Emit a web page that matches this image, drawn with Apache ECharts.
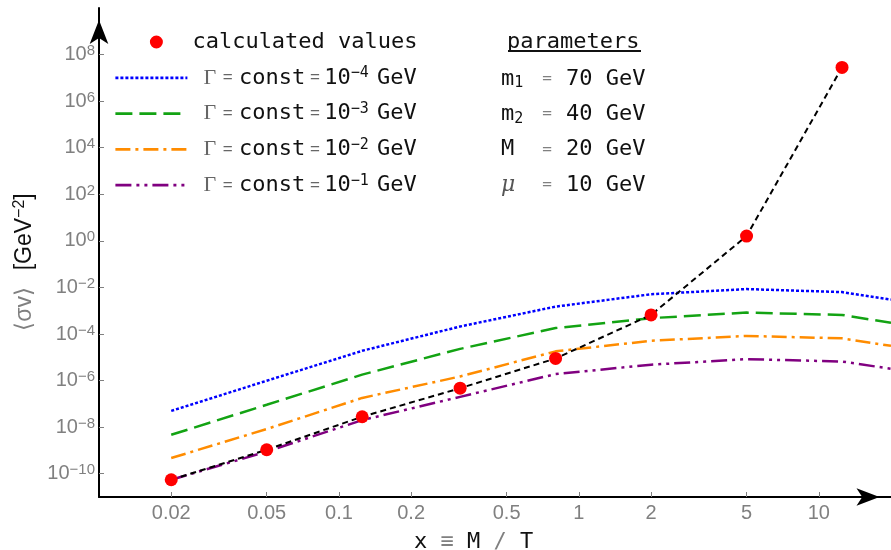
<!DOCTYPE html>
<html>
<head>
<meta charset="utf-8">
<script src="https://cdn.jsdelivr.net/npm/echarts@6/dist/echarts.min.js"></script>
<style>
  html, body { margin: 0; padding: 0; background: #fff; }
  #chart { width: 891px; height: 550px; }
</style>
</head>
<body>
<div id="chart"></div>
<script>
// x = M/T sample points
var xs = [0.02, 0.05, 0.125, 0.32, 0.8, 2, 5, 12.5, 20];
var pointX = [0.02, 0.05, 0.125, 0.32, 0.8, 2, 5, 12.5];
// <sigma v> calculated values [GeV^-2]
var pointY = [5.5e-11, 1.07e-9, 2.8e-8, 4.7e-7, 8.9e-6, 6.6e-4, 1.6, 2.8e7];
// Gamma = const curves
var gamma4 = [5.0e-8, 9.8e-7, 1.9e-5, 2.1e-4, 1.5e-3, 5.1e-3, 8.5e-3, 6.3e-3, 3.0e-3];
var gamma3 = [4.7e-9, 9.1e-8, 1.8e-6, 2.3e-5, 1.8e-4, 4.8e-4, 8.3e-4, 6.6e-4, 3.0e-4];
var gamma2 = [4.7e-10, 8.3e-9, 1.8e-7, 1.5e-6, 1.8e-5, 5.1e-5, 8.3e-5, 6.5e-5, 3.1e-5];
var gamma1 = [5.5e-11, 8.9e-10, 2.0e-8, 2.0e-7, 1.9e-6, 4.8e-6, 8.3e-6, 6.6e-6, 3.2e-6];
var gammaExps = [-4, -3, -2, -1];

var xTicks = [0.02, 0.05, 0.1, 0.2, 0.5, 1, 2, 5, 10];
var yTickExps = [-10, -8, -6, -4, -2, 0, 2, 4, 6, 8];

var paramNames = [['m', '1'], ['m', '2'], ['M', ''], ['μ', '']];
var paramValues = ['70 GeV', '40 GeV', '20 GeV', '10 GeV'];

var MONO = 'DejaVu Sans Mono';
var SANS = 'Liberation Sans';
var GRAY = '#808080';

function toLog(xArr, yArr) {
    return xArr.map(function (x, i) {
        return [Math.log10(x), Math.log10(yArr[i])];
    });
}
function expText(e) {
    return e < 0 ? '−' + (-e) : String(e);
}

var chart = echarts.init(document.getElementById('chart'));

var curves = [gamma4, gamma3, gamma2, gamma1];
var colors = ['#0000ff', '#13a313', '#ff8c00', '#800080'];
var dashes = [[3, 2], [17, 7], [15, 5, 3, 5], [16, 5, 3, 5, 3, 5]];
var names = gammaExps.map(function (e) { return 'G' + e; });

var series = curves.map(function (c, i) {
    return {
        type: 'line',
        name: names[i],
        data: toLog(xs, c),
        symbol: 'none',
        color: colors[i],
        itemStyle: { color: colors[i] },
        lineStyle: { color: colors[i], width: 2.5, type: dashes[i] },
        silent: true,
        animation: false,
        z: 2
    };
});
series.push({
    type: 'line',
    data: toLog(pointX, pointY),
    symbol: 'none',
    lineStyle: { color: '#000', width: 2, type: [6, 4] },
    silent: true,
    animation: false,
    z: 3
});
series.push({
    type: 'scatter',
    name: 'calculated values',
    data: toLog(pointX, pointY),
    symbolSize: 13,
    itemStyle: { color: '#ff0000', opacity: 1 },
    silent: true,
    animation: false,
    z: 4
});

var graphics = [];
// y axis title
graphics.push({
    type: 'text', x: 25, y: 262, rotation: Math.PI / 2,
    style: {
        text: '{g|⟨σv⟩}{sp|   }{k|[GeV}{s|−2}{k|]}',
        align: 'center', verticalAlign: 'middle',
        rich: {
            g: { fill: GRAY, fontSize: 23, fontFamily: SANS, lineHeight: 26 },
            sp: { fontSize: 20, fontFamily: SANS, lineHeight: 26 },
            k: { fill: '#111', fontSize: 23, fontFamily: SANS, lineHeight: 26 },
            s: { fill: '#111', fontSize: 16, fontFamily: SANS, lineHeight: 16, verticalAlign: 'top' }
        }
    }
});
// x axis title
graphics.push({
    type: 'text', x: 414, y: 542,
    style: {
        text: '{c|x }{g|≡}{c| M }{g|/}{c| T}',
        align: 'left', verticalAlign: 'middle',
        rich: {
            c: { fill: '#111', fontSize: 22, fontFamily: MONO },
            g: { fill: GRAY, fontSize: 22, fontFamily: MONO }
        }
    }
});
// parameters block
graphics.push({
    type: 'text', x: 507, y: 42,
    style: { text: 'parameters', fill: '#111', fontSize: 22, fontFamily: MONO, align: 'left', verticalAlign: 'middle' }
});
graphics.push({
    type: 'line', shape: { x1: 508, y1: 51, x2: 641, y2: 51 },
    style: { stroke: '#111', lineWidth: 2 }
});
paramNames.forEach(function (p, i) {
    var y = 79 + i * 35.3;
    var isGreek = p[0] === 'μ';
    graphics.push({
        type: 'text', x: 501, y: y,
        style: {
            text: '{n|' + p[0] + '}' + (p[1] ? '{sub|' + p[1] + '}' : ''),
            align: 'left', verticalAlign: 'middle',
            rich: {
                n: isGreek
                    ? { fill: '#555', fontSize: 22, fontFamily: 'DejaVu Serif', fontStyle: 'italic', lineHeight: 24 }
                    : { fill: '#111', fontSize: 22, fontFamily: MONO, lineHeight: 24 },
                sub: { fill: '#111', fontSize: 15, fontFamily: MONO, lineHeight: 12, verticalAlign: 'bottom' }
            }
        }
    });
    graphics.push({
        type: 'text', x: 547, y: y,
        style: { text: '=', fill: GRAY, fontSize: 16, fontFamily: MONO, align: 'center', verticalAlign: 'middle' }
    });
    graphics.push({
        type: 'text', x: 566, y: y,
        style: { text: paramValues[i], fill: '#111', fontSize: 22, fontFamily: MONO, align: 'left', verticalAlign: 'middle' }
    });
});

// dot icon sitting a little right of the icon box centre, like the reference
var dotIcon = 'path://M0,0L0.01,0L0,0.01Z' +
    'M34.5,6.5A6.5,6.5,0,1,0,47.5,6.5A6.5,6.5,0,1,0,34.5,6.5Z' +
    'M72,13L71.99,13L72,12.99Z';
var legendData = [{ name: 'calculated values', icon: dotIcon }].concat(names.map(function (n) {
    return { name: n, itemStyle: { opacity: 0, color: 'rgba(0,0,0,0)', borderWidth: 0 } };
}));

var option = {
    animation: false,
    textStyle: { fontFamily: SANS },
    grid: { left: 99, right: 0, top: 8, bottom: 53, containLabel: false, outerBoundsMode: 'none' },
    xAxis: {
        type: 'value',
        min: -2,
        max: Math.log10(20),
        axisLine: {
            onZero: false,
            lineStyle: { color: '#000', width: 2 },
            symbol: ['none', 'arrow'],
            symbolSize: [13, 23],
            symbolOffset: [0, -11.5]
        },
        axisTick: {
            inside: true, length: 5,
            lineStyle: { color: GRAY, width: 1 },
            customValues: xTicks.map(function (t) { return Math.log10(t); })
        },
        axisLabel: {
            margin: 6,
            color: GRAY, fontSize: 20, fontFamily: SANS,
            customValues: xTicks.map(function (t) { return Math.log10(t); }),
            formatter: function (v) {
                var best = 0;
                xTicks.forEach(function (t, i) {
                    if (Math.abs(Math.log10(t) - v) < Math.abs(Math.log10(xTicks[best]) - v)) best = i;
                });
                return String(xTicks[best]);
            }
        },
        splitLine: { show: false }
    },
    yAxis: {
        type: 'value',
        min: -11,
        max: 10,
        axisLine: {
            onZero: false,
            lineStyle: { color: '#000', width: 2 },
            symbol: ['none', 'arrow'],
            symbolSize: [14, 24],
            symbolOffset: [0, -12]
        },
        axisTick: {
            inside: true, length: 5,
            lineStyle: { color: GRAY, width: 1 },
            customValues: yTickExps
        },
        axisLabel: {
            margin: 4,
            customValues: yTickExps,
            formatter: function (v) {
                return '{b|10}{s|' + expText(Math.round(v)) + '}';
            },
            rich: {
                b: { color: GRAY, fontSize: 20, fontFamily: SANS, lineHeight: 22 },
                s: { color: GRAY, fontSize: 15, fontFamily: SANS, lineHeight: 14, verticalAlign: 'top' }
            }
        },
        splitLine: { show: false }
    },
    legend: {
        orient: 'vertical',
        left: 109,
        top: 25,
        itemWidth: 72,
        itemHeight: 13,
        itemGap: 11.8,
        selectedMode: false,
        data: legendData,
        lineStyle: { width: 2.8 },
        formatter: function (name) {
            if (name === 'calculated values') return '{t|calculated values}';
            var e = parseInt(name.slice(1), 10);
            return '{pad| }{g|Γ}{e1|=}{t|const}{e2|=}{t|10}{s|' + expText(e) + '}{sp| }{t|GeV}';
        },
        textStyle: {
            lineHeight: 24,
            rich: {
                t: { color: '#111', fontSize: 22, fontFamily: MONO, lineHeight: 24 },
                pad: { fontSize: 10, width: 11, lineHeight: 24 },
                g: { color: '#666', fontSize: 22, fontFamily: 'Liberation Serif', lineHeight: 24 },
                e1: { color: '#666', fontSize: 17, fontFamily: SANS, lineHeight: 24, width: 23, align: 'center' },
                e2: { color: '#666', fontSize: 17, fontFamily: SANS, lineHeight: 24, width: 19, align: 'center' },
                s: { color: '#111', fontSize: 15, fontFamily: MONO, lineHeight: 15, verticalAlign: 'top' },
                sp: { fontSize: 10, width: 8, lineHeight: 24 }
            }
        }
    },
    graphic: graphics,
    series: series
};

chart.setOption(option);
</script>
</body>
</html>
